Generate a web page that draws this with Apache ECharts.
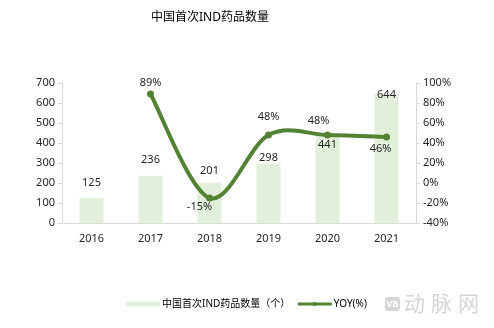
<!DOCTYPE html>
<html>
<head>
<meta charset="utf-8">
<script src="https://cdn.jsdelivr.net/npm/echarts@6/dist/echarts.min.js"></script>
<style>
  html, body { margin: 0; padding: 0; background: #fff; }
  #chart { width: 494px; height: 328px; }
</style>
</head>
<body>
<div id="chart"></div>
<script>
// Yearly count of first-time IND drug filings in China, with year-on-year growth
const years = ['2016', '2017', '2018', '2019', '2020', '2021'];
const indCounts = [125, 236, 201, 298, 441, 644];
const yoyPct = [null, 89, -15, 48, 48, 46];

const countAxisTicks = { min: 0, max: 700, interval: 100 };
const yoyAxisTicks = { min: -40, max: 100, interval: 20 };

// Nudges for individual value labels so they sit clear of the curve
const countLabelShift = [-10, -10, -6, 0, 16, 6];
const yoyLabelShift = [[0, 0], [0, -11], [-10, 9], [0, -18], [-9, -14], [-6, 12]];

const barName = '中国首次IND药品数量（个）';
const lineName = 'YOY(%)';
const font = '"Noto Sans", "Noto Sans CJK SC", sans-serif';
const textColor = '#262626';
const axisGrey = '#d9d9d9';
const lineGreen = '#548235';

const chart = echarts.init(document.getElementById('chart'));

// Catmull-Rom style smoothing through the YoY points (tangent = (next - prev) / 6)
function renderYoyCurve(params, api) {
  if (params.dataIndex !== 0) return null;
  const pts = [];
  yoyPct.forEach((v, i) => {
    if (v !== null) pts.push(api.coord([i, v]));
  });
  const children = [];
  for (let i = 0; i < pts.length - 1; i++) {
    const p0 = pts[Math.max(i - 1, 0)];
    const p1 = pts[i];
    const p2 = pts[i + 1];
    const p3 = pts[Math.min(i + 2, pts.length - 1)];
    children.push({
      type: 'bezierCurve',
      shape: {
        x1: p1[0], y1: p1[1],
        cpx1: p1[0] + (p2[0] - p0[0]) / 6,
        cpy1: p1[1] + (p2[1] - p0[1]) / 6,
        cpx2: p2[0] - (p3[0] - p1[0]) / 6,
        cpy2: p2[1] - (p3[1] - p1[1]) / 6,
        x2: p2[0], y2: p2[1]
      },
      style: { stroke: lineGreen, lineWidth: 4, fill: null, lineCap: 'round' }
    });
  }
  return { type: 'group', children: children };
}

chart.setOption({
  animation: false,
  textStyle: { fontFamily: font },
  title: {
    text: '中国首次IND药品数量',
    left: 146,
    top: 7,
    textStyle: { fontSize: 12, fontWeight: 'normal', color: '#000', fontFamily: font }
  },
  grid: { left: 62, right: 78, top: 83, bottom: 105 },
  legend: {
    bottom: 14,
    left: 121,
    itemWidth: 34,
    itemHeight: 5,
    itemGap: 6,
    textStyle: { fontSize: 10, color: '#000', fontFamily: font, padding: [0, 0, 0, -3] },
    data: [
      { name: barName, icon: 'rect' },
      { name: lineName, lineStyle: { width: 3, color: lineGreen, opacity: 1 } }
    ]
  },
  xAxis: {
    type: 'category',
    data: years,
    axisLine: { lineStyle: { color: axisGrey } },
    axisTick: { show: false },
    axisLabel: { color: textColor, fontSize: 11, margin: 10 }
  },
  yAxis: [
    {
      type: 'value',
      min: countAxisTicks.min,
      max: countAxisTicks.max,
      interval: countAxisTicks.interval,
      splitLine: { show: false },
      axisLine: { show: true, lineStyle: { color: axisGrey } },
      axisTick: { show: true, length: 4, lineStyle: { color: axisGrey } },
      axisLabel: { color: textColor, fontSize: 11, margin: 7 }
    },
    {
      type: 'value',
      min: yoyAxisTicks.min,
      max: yoyAxisTicks.max,
      interval: yoyAxisTicks.interval,
      splitLine: { show: false },
      axisLine: { show: true, lineStyle: { color: axisGrey } },
      axisTick: { show: true, length: 4, lineStyle: { color: axisGrey } },
      axisLabel: { color: textColor, fontSize: 11, margin: 7, formatter: '{value}%' }
    }
  ],
  series: [
    {
      name: barName,
      type: 'bar',
      yAxisIndex: 0,
      barWidth: 24,
      itemStyle: { color: '#e2efda' },
      data: indCounts.map((v, i) => ({
        value: v,
        label: { offset: [0, countLabelShift[i]] }
      })),
      label: {
        show: true,
        position: 'top',
        distance: 0,
        color: textColor,
        fontSize: 11
      },
      z: 1
    },
    {
      name: 'yoyCurve',
      type: 'custom',
      yAxisIndex: 1,
      renderItem: renderYoyCurve,
      data: yoyPct.map((v, i) => [i, v === null ? 0 : v]),
      silent: true,
      z: 2
    },
    {
      name: lineName,
      type: 'line',
      yAxisIndex: 1,
      symbol: 'circle',
      symbolSize: 7,
      lineStyle: { color: lineGreen, width: 4, opacity: 0 },
      itemStyle: { color: lineGreen },
      data: yoyPct.map((v, i) => ({
        value: v,
        label: { offset: yoyLabelShift[i] }
      })),
      label: {
        show: true,
        position: 'inside',
        color: textColor,
        fontSize: 11,
        formatter: p => p.value + '%'
      },
      z: 3
    }
  ],
  graphic: [
    {
      type: 'group',
      left: 385,
      top: 293,
      children: [
        {
          type: 'rect',
          shape: { x: 0, y: 0, width: 15, height: 14, r: 3 },
          style: { fill: '#d6d6d6' }
        },
        {
          type: 'text',
          style: { text: 'VB', fill: '#fff', font: 'bold 9px ' + font, x: 1.5, y: 2.5 }
        },
        {
          type: 'text',
          style: { text: '动', x: 19, y: -4, fill: '#d6d6d6', font: '21px "Noto Sans CJK SC", sans-serif' }
        },
        {
          type: 'text',
          style: { text: '脉', x: 46, y: -4, fill: '#d6d6d6', font: '21px "Noto Sans CJK SC", sans-serif' }
        },
        {
          type: 'text',
          style: { text: '网', x: 73, y: -4, fill: '#d6d6d6', font: '21px "Noto Sans CJK SC", sans-serif' }
        }
      ]
    }
  ]
});
</script>
</body>
</html>
